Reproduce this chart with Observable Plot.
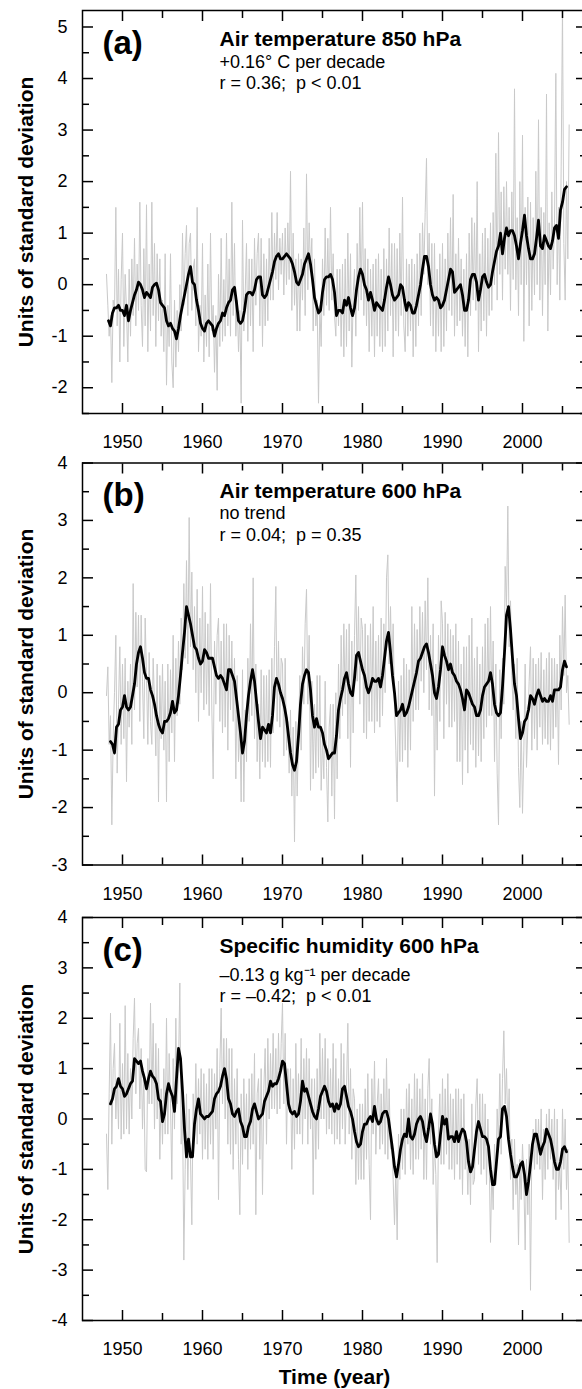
<!DOCTYPE html>
<html><head><meta charset="utf-8">
<script src="https://cdn.jsdelivr.net/npm/d3@7"></script>
<script src="https://cdn.jsdelivr.net/npm/@observablehq/plot@0.6"></script>
<style>
body{margin:0;background:#fff;font-family:"Liberation Sans",Arial,sans-serif}
#wrap{position:relative;width:582px;height:1389px;overflow:hidden;background:#fff}
.panel{position:absolute;left:0;width:586px}
</style></head><body><div id="wrap"></div>
<script>
// ---- shared ticks / text ----
const xMajor = [1950, 1960, 1970, 1980, 1990, 2000];
const xMinor = [1955, 1965, 1975, 1985, 1995, 2005];
const yMajorA = [-2, -1, 0, 1, 2, 3, 4, 5];
const yMinorA = [-2.5, -1.5, -0.5, 0.5, 1.5, 2.5, 3.5, 4.5];
const yMajorB = [-3, -2, -1, 0, 1, 2, 3, 4];
const yMinorB = [-2.5, -1.5, -0.5, 0.5, 1.5, 2.5, 3.5];
const yMajorC = [-4, -3, -2, -1, 0, 1, 2, 3, 4];
const yMinorC = [-3.5, -2.5, -1.5, -0.5, 0.5, 1.5, 2.5, 3.5];
const panelLabels = ["(a)", "(b)", "(c)"];
const titles = ["Air temperature 850 hPa", "Air temperature 600 hPa", "Specific humidity 600 hPa"];
const trends = ["+0.16° C per decade", "no trend", "–0.13 g kg⁻¹ per decade"];
const stats = ["r = 0.36;  p < 0.01", "r = 0.04;  p = 0.35", "r = –0.42;  p < 0.01"];
const yTitle = "Units of standard deviation";
const xTitle = "Time (year)";

// ---- monthly-ish raw anomalies (6 samples per year, 1948-2005) ----
const grayStart = 1948, grayPerYear = 6;
const grayA = [
[0.2,-0.4,-1.0,-0.6,-1.9,-0.3],[-0.5,1.5,-0.8,0.3,-1.5,0.1],[1.0,-1.2,0.2,-0.5,-1.5,0.3],[-1.0,0.5,-0.6,0.9,-0.8,0.4],
[-0.5,1.6,-0.4,-1.2,0.7,-0.8],[1.55,-1.3,0.4,-0.9,1.6,-0.6],[0.8,-1.2,0.6,-0.7,0.5,-1.0],[-0.3,-1.3,0.6,-1.95,-0.4,-1.2],
[0.6,-1.5,-2.0,-0.3,-1.6,-0.5],[-1.3,0.0,-0.9,1.0,-0.4,0.6],[1.15,-0.6,0.8,1.0,-0.5,0.3],[0.5,-0.8,1.5,-1.3,-0.4,-1.0],
[0.8,-1.5,-0.2,-1.2,0.4,-1.4],[1.0,-0.9,-0.4,-1.7,-0.6,-2.05],[0.2,-1.2,0.9,-1.1,0.1,-1.0],[1.0,-0.8,0.5,-1.0,1.6,-0.6],
[0.8,-1.0,-0.3,-1.3,-0.5,-2.3],[1.25,-0.9,-0.2,0.8,-1.1,0.5],[-0.8,0.5,-1.3,0.9,-0.4,0.6],[1.0,-0.8,0.9,-1.2,0.6,-0.8],
[0.5,-0.7,0.9,-0.3,1.4,-0.3],[1.0,0.1,1.4,-0.1,0.9,0.2],[1.0,-0.2,1.1,0.0,1.2,0.1],[2.2,-0.5,1.0,-0.4,0.5,-0.9],
[0.6,-0.9,0.5,-0.3,1.1,-0.6],[2.15,-0.1,1.2,0.3,0.9,-0.9],[0.5,-0.8,-0.3,-2.3,-0.4,-1.2],[0.5,-0.6,1.1,-0.4,0.9,-0.5],
[1.5,-0.3,0.6,-0.6,-1.0,0.3],[-0.8,0.3,-1.2,0.4,-1.4,0.5],[-1.2,1.0,-0.9,0.6,-1.6,-0.2],[0.3,-1.0,0.8,-0.5,1.5,-0.3],
[1.6,-0.6,0.7,-0.8,0.5,-1.3],[0.3,-1.0,0.4,-1.4,0.5,-1.0],[0.6,-1.2,0.3,-1.3,0.7,-1.2],[0.5,-0.9,1.1,-0.6,0.8,-1.4],
[0.8,-0.9,0.7,-1.0,1.0,-0.6],[1.7,-0.8,-1.3,0.5,-1.0,0.4],[-0.9,0.5,-1.4,0.4,-1.2,0.6],[-0.8,1.0,-0.6,1.2,0.2,1.4],
[2.45,0.0,1.0,-0.8,0.8,-1.0],[0.8,-1.3,0.3,-1.0,0.6,-1.3],[0.8,-1.2,0.5,-0.9,1.0,-0.5],[1.3,-0.6,1.75,-1.0,0.6,-0.8],
[0.9,-0.7,0.5,-1.0,0.3,-1.2],[0.6,-1.4,1.0,-0.6,1.3,-0.3],[1.2,-0.5,2.0,-1.3,0.6,-0.9],[1.0,-0.7,1.1,-1.0,0.9,-0.6],
[1.2,-0.5,1.4,0.0,2.55,-0.3],[2.95,0.2,1.8,-0.3,1.9,0.3],[2.0,0.2,1.5,-0.5,1.8,0.1],[3.8,-0.1,1.3,-0.6,2.0,0.0],
[2.9,-1.1,1.5,0.0,1.7,-0.8],[1.6,-0.5,1.3,-0.2,2.2,0.0],[3.2,-0.3,1.5,-0.6,1.4,0.0],[3.7,-0.9,1.2,-0.2,1.8,0.3],
[1.2,4.1,0.0,1.5,-0.3,2.3],[5.4,0.8,-0.3,2.0,0.5,3.1]
];
const grayB = [
[-0.05,0.45,-0.9,-0.4,-2.3,-0.8],[0.0,1.0,-1.4,-0.2,0.8,-0.9],[0.5,-0.8,0.6,-1.55,0.2,-0.6],[0.5,-0.9,1.9,-0.3,1.4,0.1],
[1.35,-0.5,1.35,0.2,-0.8,1.3],[0.3,-0.9,0.7,-0.5,-0.9,0.6],[-0.2,-1.1,0.5,-1.9,0.3,-0.8],[0.5,-1.0,0.2,-1.9,0.5,-1.2],
[0.4,-0.7,1.0,-1.2,0.6,-0.4],[0.9,-0.2,1.3,0.4,1.9,0.6],[2.3,0.5,3.05,0.8,2.1,0.4],[1.5,0.0,1.8,-0.5,1.3,0.0],
[1.85,-0.3,1.4,-0.2,1.2,-0.4],[1.9,-0.3,-1.5,0.9,-0.2,1.0],[1.3,-0.5,0.9,-0.7,1.2,-0.6],[1.2,-1.0,1.0,-0.3,0.9,-0.5],
[0.6,-1.5,0.3,-1.2,-0.5,-1.9],[0.4,-1.9,-0.3,-1.2,0.6,-0.5],[1.2,-0.4,2.0,-0.8,0.5,-1.2],[-0.2,-1.5,0.4,-1.2,0.3,-1.3],
[0.3,-1.2,0.4,-1.3,0.6,-0.7],[0.8,1.85,-0.5,0.9,-0.6,0.6],[0.5,-1.1,0.6,-1.0,-0.5,-1.4],[-0.3,-1.8,-0.6,-2.6,-0.5,-1.8],
[-0.8,0.3,-1.0,0.8,-0.2,1.2],[1.8,-0.2,1.0,-1.7,0.2,-1.5],[-0.2,-1.4,0.3,-1.3,0.3,-1.7],[-0.8,-1.5,0.2,-1.3,-2.25,-0.6],
[-0.2,-1.8,-0.2,-2.2,0.0,-1.5],[0.5,-0.8,1.0,-0.4,1.2,-0.2],[1.1,-0.8,1.2,-1.3,0.9,-0.7],[1.0,2.05,0.2,1.5,-0.2,1.3],
[1.1,-0.7,1.2,-0.8,1.0,-0.5],[1.2,-0.5,1.5,-0.7,0.9,-0.5],[1.0,-0.6,1.3,-0.4,1.2,0.0],[2.0,2.4,0.5,1.5,0.3,1.2],
[-0.2,-1.0,-1.9,0.2,-1.2,0.3],[-1.2,0.6,-1.0,0.5,-1.3,0.4],[-1.0,1.5,-0.5,1.2,-0.3,1.1],[-0.3,1.5,0.2,1.4,0.0,1.6],
[0.4,2.0,-0.3,1.0,-0.4,1.2],[-1.8,0.5,-1.0,1.0,-0.5,1.6],[1.2,-0.8,1.4,-0.2,1.2,-0.6],[1.1,-0.6,1.0,-0.5,1.2,-1.2],
[0.9,-1.2,0.5,-1.6,0.8,-1.0],[0.8,-1.4,1.0,-0.9,1.3,-1.0],[0.6,-1.3,0.8,-1.1,0.5,-1.2],[0.8,-0.8,1.2,-0.6,1.3,-0.4],
[1.5,-0.4,0.9,-1.2,0.5,-1.4],[-2.3,0.4,-0.8,0.6,-0.2,2.2],[1.5,3.25,0.8,1.6,0.3,-0.3],[0.5,-0.8,0.6,-1.3,-2.0,-0.5],
[-2.1,-1.0,0.5,-1.3,-0.6,0.2],[0.8,-1.0,0.6,-0.8,0.5,-1.0],[0.6,-0.6,0.7,-0.9,0.4,-0.8],[0.6,-0.9,0.7,-1.0,0.6,-0.8],
[0.6,-0.6,0.5,-1.25,1.0,-0.3],[1.5,0.3,1.7,0.0,0.3,-0.55]
];
const grayC = [
[-0.3,-1.4,0.5,2.1,-0.5,1.0],[1.5,0.0,0.8,-0.2,1.9,-0.4],[1.1,-0.3,2.25,-0.2,1.3,-0.3],[1.0,0.0,1.6,2.4,0.5,1.5],
[1.8,0.2,1.4,-0.2,0.9,-1.0],[-1.05,1.2,0.3,2.3,0.3,1.9],[-0.2,1.5,0.0,1.4,-0.8,0.6],[-0.5,1.0,-0.3,2.0,-0.3,1.3],
[0.3,-1.2,1.2,-0.2,2.0,0.3],[1.0,2.7,-0.5,0.3,-2.8,-1.0],[0.5,-1.4,0.2,-0.8,-2.1,0.5],[-0.4,1.1,-0.5,0.8,-0.3,1.0],
[-0.8,0.9,-0.6,0.7,-0.8,1.0],[-0.5,1.0,-0.8,0.9,-0.2,1.4],[-1.6,1.0,2.2,0.3,1.6,0.0],[1.6,-0.5,1.4,-0.7,1.4,-1.0],
[0.8,-0.5,1.0,-0.8,-1.9,0.5],[-0.9,0.8,-0.6,0.5,-1.0,0.8],[-0.6,0.9,-0.5,1.3,-1.9,0.5],[0.8,-0.8,1.0,-1.5,0.6,1.4],
[-0.5,1.6,0.0,1.3,0.2,1.7],[0.2,1.4,0.1,1.7,0.2,1.5],[2.3,0.3,1.7,-0.5,1.0,0.2],[1.0,-1.0,0.8,-0.6,1.5,-0.3],
[0.9,-0.3,1.6,-0.5,1.2,0.0],[1.4,-0.5,1.2,-0.2,0.8,-1.5],[0.8,-0.8,1.0,-0.6,1.7,0.0],[1.4,0.0,1.6,-0.3,1.2,-0.2],
[1.0,-0.3,1.5,-0.5,1.2,-0.4],[0.8,-0.5,1.5,-0.2,1.3,-0.5],[0.6,1.9,-0.3,1.0,-0.8,0.6],[0.4,-1.3,0.2,-1.2,0.3,-1.2],
[0.3,-1.2,0.6,-0.8,0.9,-0.9],[-2.0,0.8,-0.3,1.15,-0.7,0.3],[0.8,-0.6,0.5,-0.5,0.8,-0.7],[1.2,-0.8,0.6,-0.6,-0.5,-1.2],
[-2.1,-1.0,-2.4,-0.3,-1.2,0.2],[-1.0,0.2,-1.1,0.6,-0.5,0.7],[-1.0,0.4,-1.1,0.9,-0.8,0.8],[-0.8,0.6,-0.6,0.9,-1.2,0.4],
[-1.2,0.6,1.2,-0.5,0.4,-1.3],[-0.5,-1.1,-2.85,-0.2,0.5,-0.9],[0.8,-0.9,0.6,-0.7,0.9,-1.0],[0.5,-1.0,0.4,-1.2,0.6,-0.9],
[0.6,-1.2,0.4,-1.5,0.5,-1.0],[-0.5,-1.5,-0.4,-1.7,0.3,-1.3],[-1.2,0.3,0.8,-0.9,0.5,-1.1],[0.5,-1.0,0.3,-1.3,0.0,-0.8],
[-2.45,-1.0,-1.8,-0.5,-1.3,0.2],[-0.5,0.9,-0.7,0.8,1.75,0.3],[1.0,-0.3,0.6,-1.2,-0.4,-1.8],[-0.4,-1.5,-0.9,-2.5,-0.8,-1.6],
[-0.5,-1.2,-2.6,-0.8,-1.9,-0.5],[-3.4,-0.6,-0.2,-1.0,0.0,-0.9],[0.0,-1.0,0.2,-1.6,-0.2,-1.2],[0.1,-1.0,0.2,-0.8,0.0,-1.2],
[0.2,-2.0,0.0,-1.4,-0.9,-1.8],[0.2,-1.0,0.0,-1.4,-0.6,-2.45]
];

// ---- smoothed series (quarterly samples) ----
const blackStep = 0.25;
const blackAStart = 1948.25;
const blackA = [
[-0.7,-0.8,-0.55],[-0.45,-0.45,-0.4,-0.5],[-0.5,-0.6,-0.4,-0.7],[-0.5,-0.35,-0.2,-0.1],[0.05,0.0,-0.1,-0.25],
[-0.15,-0.2,-0.25,-0.05],[0.0,0.03,-0.1,-0.35],[-0.4,-0.45,-0.7,-0.8],[-0.75,-0.85,-0.9,-1.05],[-0.85,-0.6,-0.4,-0.2],
[0.0,0.2,0.35,0.05],[0.0,-0.3,-0.5,-0.75],[-0.85,-0.9,-0.75,-0.7],[-0.75,-0.8,-1.0,-0.85],[-0.75,-0.7,-0.55,-0.6],
[-0.45,-0.35,-0.3,-0.1],[-0.05,-0.35,-0.7,-0.75],[-0.7,-0.5,-0.2,-0.15],[-0.15,-0.2,-0.1,0.1],[0.15,0.15,-0.2,-0.25],
[-0.2,-0.05,0.1,0.25],[0.45,0.55,0.6,0.5],[0.5,0.55,0.6,0.55],[0.5,0.4,0.25,0.05],[0.0,0.1,0.2,0.4],
[0.5,0.6,0.4,0.1],[-0.25,-0.4,-0.55,-0.5],[-0.15,0.1,0.15,0.15],[0.2,0.1,-0.15,-0.6],[-0.5,-0.5,-0.55,-0.3],
[-0.4,-0.25,-0.45,-0.6],[-0.45,-0.1,0.15,0.3],[0.2,0.0,-0.1,-0.3],[-0.15,-0.3,-0.5,-0.35],[-0.4,-0.45,-0.5,-0.3],
[-0.05,0.15,0.0,-0.2],[-0.3,-0.25,-0.2,0.0],[-0.05,-0.3,-0.5,-0.35],[-0.4,-0.55,-0.55,-0.4],[-0.2,0.0,0.3,0.55],
[0.55,0.35,0.0,-0.2],[-0.3,-0.25,-0.3,-0.45],[-0.4,-0.3,-0.1,0.1],[0.3,0.25,-0.15,-0.1],[-0.05,0.0,-0.2,-0.5],
[-0.5,-0.3,0.1,0.2],[0.2,0.05,-0.3,-0.1],[0.15,0.2,0.05,-0.05],[0.0,0.25,0.45,0.65],[0.75,1.0,0.6,0.9],
[1.1,0.95,1.05,1.05],[0.95,0.75,0.5,0.8],[1.05,1.35,0.95,0.7],[0.5,0.5,0.6,0.9],[1.25,0.75,0.7,0.95],
[0.85,0.75,0.7,0.85],[1.1,1.15,0.9,1.45],[1.6,1.85,1.9]
];
const blackBStart = 1948.5;
const blackB = [
[-0.85,-0.9],[-1.05,-0.6,-0.55,-0.3],[-0.25,-0.05,-0.25,-0.3],[-0.25,-0.05,0.15,0.5],[0.7,0.8,0.6,0.35],
[0.25,0.25,0.05,-0.05],[-0.2,-0.4,-0.55,-0.65],[-0.7,-0.5,-0.5,-0.45],[-0.35,-0.15,-0.35,-0.3],[-0.05,0.3,0.7,1.05],
[1.5,1.35,1.2,1.0],[0.8,0.75,0.6,0.5],[0.55,0.75,0.7,0.6],[0.6,0.6,0.45,0.3],[0.25,0.3,0.25,0.15],
[0.05,0.4,0.4,0.3],[0.2,-0.1,-0.4,-0.7],[-1.05,-0.85,-0.4,-0.05],[0.2,0.4,0.2,-0.15],[-0.5,-0.8,-0.6,-0.65],
[-0.7,-0.55,-0.7,-0.4],[0.1,0.25,0.15,0.0],[-0.1,-0.25,-0.45,-0.75],[-1.05,-1.25,-1.35,-1.2],[-0.75,-0.2,0.15,0.3],
[0.4,0.35,0.05,-0.4],[-0.6,-0.45,-0.6,-0.6],[-0.7,-0.9,-1.0,-1.15],[-1.1,-1.05,-1.05,-0.75],[-0.3,-0.1,0.05,0.25],
[0.35,0.15,0.0,-0.05],[0.25,0.65,0.7,0.55],[0.4,0.3,0.1,0.0],[0.1,0.25,0.2,0.2],[0.25,0.1,0.3,0.6],
[0.9,1.05,0.7,0.3],[0.0,-0.4,-0.35,-0.3],[-0.2,-0.4,-0.35,-0.25],[-0.1,0.05,0.2,0.35],[0.55,0.6,0.7,0.8],
[0.85,0.7,0.5,0.3],[0.0,-0.1,0.1,0.4],[0.8,0.65,0.55,0.4],[0.5,0.35,0.3,0.2],[0.15,0.05,-0.1,-0.3],
[0.05,0.0,-0.1,-0.2],[-0.25,-0.4,-0.4,-0.3],[-0.05,0.1,0.15,0.2],[0.35,0.15,-0.2,-0.35],[-0.4,-0.35,0.1,0.7],
[1.35,1.5,1.1,0.6],[0.15,-0.05,-0.45,-0.8],[-0.7,-0.5,-0.45,-0.3],[-0.05,-0.1,-0.2,-0.05],[0.05,-0.05,-0.15,-0.1],
[-0.15,-0.15,-0.05,-0.15],[0.05,0.05,0.05,0.1],[0.4,0.55,0.45]
];
const blackCStart = 1948.5;
const blackC = [
[0.3,0.4],[0.6,0.65,0.8,0.65],[0.6,0.45,0.5,0.6],[0.7,0.75,1.2,1.15],[1.1,1.15,0.95,0.8],
[0.6,0.8,0.95,0.85],[0.8,0.7,0.4,0.35],[-0.05,0.1,0.5,0.7],[0.55,0.45,0.15,0.8],[1.4,1.2,0.55,-0.2],
[-0.75,-0.4,-0.75,-0.75],[-0.1,0.2,0.4,0.1],[0.05,0.0,0.05,0.05],[0.1,0.15,0.4,0.5],[0.55,0.65,0.85,1.0],
[0.8,0.4,0.3,0.1],[0.05,0.15,0.2,-0.05],[-0.15,-0.35,-0.35,-0.15],[-0.05,0.2,0.3,0.15],[0.0,0.05,0.1,0.35],
[0.45,0.55,0.75,0.65],[0.7,0.7,0.8,0.95],[1.15,1.1,0.7,0.3],[0.15,0.1,0.15,0.05],[0.1,0.35,0.75,0.55],
[0.6,0.45,0.3,0.15],[0.05,0.0,0.2,0.45],[0.55,0.65,0.55,0.35],[0.25,0.3,0.15,0.3],[0.2,0.3,0.6,0.65],
[0.45,0.25,0.15,0.0],[-0.25,-0.45,-0.55,-0.5],[-0.25,-0.1,-0.1,0.0],[0.05,-0.05,0.25,0.0],[-0.1,-0.05,0.1,0.15],
[0.15,0.0,-0.3,-0.6],[-0.95,-1.15,-0.9,-0.6],[-0.4,-0.3,-0.35,0.0],[-0.35,-0.4,-0.3,-0.1],[0.0,0.05,-0.05,-0.3],
[-0.45,-0.2,0.1,-0.1],[-0.5,-0.75,-0.7,-0.3],[0.05,-0.1,0.0,-0.4],[-0.35,-0.35,-0.45,-0.25],[-0.45,-0.3,-0.2,-0.25],
[-0.45,-0.85,-1.05,-0.95],[-0.6,-0.25,-0.05,-0.2],[-0.35,-0.35,-0.4,-0.55],[-1.0,-1.3,-1.3,-0.85],[-0.4,-0.35,0.2,0.25],
[0.05,-0.4,-0.7,-0.95],[-1.15,-1.15,-1.05,-0.9],[-0.85,-1.1,-1.5,-1.25],[-0.9,-0.5,-0.3,-0.3],[-0.5,-0.7,-0.55,-0.45],
[-0.2,-0.3,-0.4,-0.6],[-0.85,-1.0,-1.0,-0.85],[-0.6,-0.55,-0.65]
];

// ---- drawing ----
const FONT = "'Liberation Sans', Arial, Helvetica, sans-serif";
const wrap = document.getElementById("wrap");

function makePanel(cfg) {
  const grayData = cfg.gray.flat().map((v, i) => ({t: grayStart + i / grayPerYear, v}));
  const blackData = cfg.black.flat().map((v, i) => ({t: cfg.blackStart + i * blackStep, v}));
  const H = cfg.height;
  const marks = [
    Plot.line(grayData, {x: "t", y: "v", stroke: "#c9c9c9", strokeWidth: 1, clip: true}),
    Plot.line(blackData, {x: "t", y: "v", stroke: "#000", strokeWidth: 2.8, strokeLinejoin: "round", clip: true}),
    Plot.frame({stroke: "#000", strokeWidth: 1.5}),
    Plot.axisX(xMajor, {anchor: "bottom", tickSize: -10, strokeWidth: 1.5, text: null, label: null}),
    Plot.axisX(xMinor, {anchor: "bottom", tickSize: -7, strokeWidth: 1.5, text: null, label: null}),
    Plot.axisX(xMajor, {anchor: "top", tickSize: -10, strokeWidth: 1.5, text: null, label: null}),
    Plot.axisX(xMinor, {anchor: "top", tickSize: -7, strokeWidth: 1.5, text: null, label: null}),
    Plot.axisX(xMajor, {anchor: "bottom", tickSize: 0, tickPadding: 22, fontSize: 18, fill: "#000", tickFormat: d => String(d), label: null}),
    Plot.axisY(cfg.yMajor, {anchor: "left", tickSize: -11, strokeWidth: 1.5, text: null, label: null}),
    Plot.axisY(cfg.yMinor, {anchor: "left", tickSize: -7, strokeWidth: 1.5, text: null, label: null}),
    Plot.axisY(cfg.yMajor, {anchor: "right", tickSize: -11, strokeWidth: 1.5, text: null, label: null}),
    Plot.axisY(cfg.yMinor, {anchor: "right", tickSize: -7, strokeWidth: 1.5, text: null, label: null}),
    Plot.axisY(cfg.yMajor, {anchor: "left", tickSize: 0, tickPadding: 15, fontSize: 18, fill: "#000", tickFormat: d => String(d), label: null}),
    Plot.text([cfg.label], {text: d => d, frameAnchor: "top-left", textAnchor: "start", lineAnchor: "bottom", dx: 20, dy: 43, fontSize: 33, fontWeight: "bold", fill: "#000"}),
    Plot.text([cfg.title], {text: d => d, frameAnchor: "top-left", textAnchor: "start", lineAnchor: "bottom", dx: 137, dy: 35, fontSize: 21, fontWeight: "bold", fill: "#000"}),
    Plot.text([cfg.trend], {text: d => d, frameAnchor: "top-left", textAnchor: "start", lineAnchor: "bottom", dx: 137, dy: 57 + cfg.extra, fontSize: 18, fill: "#000"}),
    Plot.text([cfg.stat], {text: d => d, frameAnchor: "top-left", textAnchor: "start", lineAnchor: "bottom", dx: 137, dy: 78.5 + cfg.extra, fontSize: 18, fill: "#000"}),
    Plot.text([yTitle], {text: d => d, frameAnchor: "left", rotate: -90, textAnchor: "middle", lineAnchor: "middle", dx: -56, fontSize: 21, fontWeight: "bold", fill: "#000"})
  ];
  if (cfg.xTitle) {
    marks.push(Plot.text([cfg.xTitle], {text: d => d, frameAnchor: "bottom", textAnchor: "middle", lineAnchor: "middle", dy: 57, fontSize: 21, fontWeight: "bold", fill: "#000"}));
  }
  const chart = Plot.plot({
    width: 586, height: H,
    marginLeft: 82, marginRight: 0, marginTop: cfg.marginTop, marginBottom: cfg.marginBottom,
    x: {domain: [1945, 2008], axis: null},
    y: {domain: cfg.yDomain, axis: null},
    style: {fontFamily: FONT, maxWidth: "none", background: "transparent", color: "#000"},
    marks
  });
  const div = document.createElement("div");
  div.className = "panel";
  div.style.top = cfg.top + "px";
  div.appendChild(chart);
  wrap.appendChild(div);
}

makePanel({gray: grayA, black: blackA, blackStart: blackAStart, yDomain: [-2.5, 5.32], yMajor: yMajorA, yMinor: yMinorA,
  top: 0, height: 462, marginTop: 10, marginBottom: 49, label: panelLabels[0], title: titles[0], trend: trends[0], stat: stats[0], extra: 0});
makePanel({gray: grayB, black: blackB, blackStart: blackBStart, yDomain: [-3, 4], yMajor: yMajorB, yMinor: yMinorB,
  top: 450, height: 466, marginTop: 12.5, marginBottom: 51.5, label: panelLabels[1], title: titles[1], trend: trends[1], stat: stats[1], extra: -1});
makePanel({gray: grayC, black: blackC, blackStart: blackCStart, yDomain: [-4, 4], yMajor: yMajorC, yMinor: yMinorC,
  top: 905, height: 484, marginTop: 12, marginBottom: 69, label: panelLabels[2], title: titles[2], trend: trends[2], stat: stats[2], extra: 6, xTitle: xTitle});
</script></body></html>
